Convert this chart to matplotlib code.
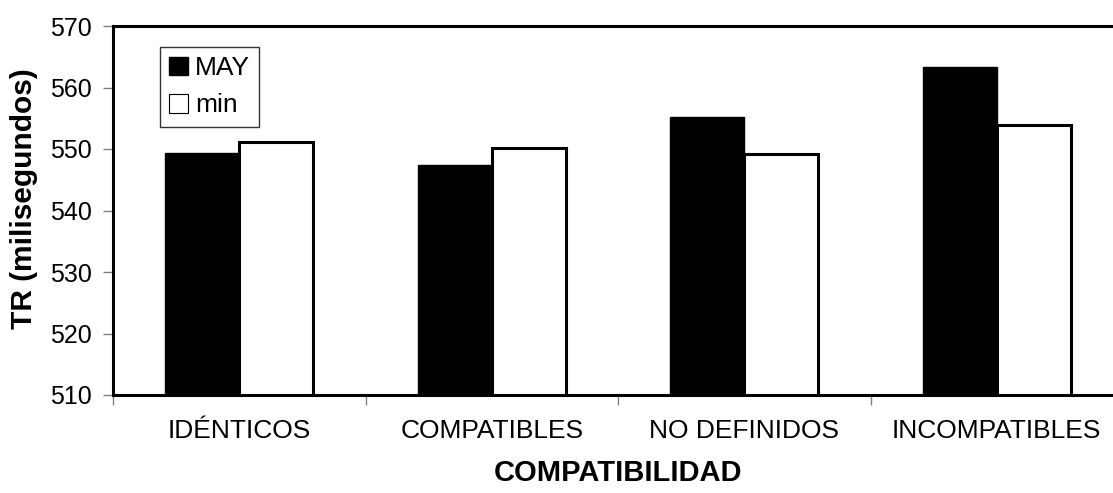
# reaction time by compatibility, MAY vs min

import matplotlib
matplotlib.use("Agg")
import matplotlib.pyplot as plt
from matplotlib.patches import Patch
import numpy as np

categories = ["IDÉNTICOS", "COMPATIBLES", "NO DEFINIDOS", "INCOMPATIBLES"]
may_vals = [549.3, 547.4, 555.2, 563.3]
min_vals = [551.1, 550.2, 549.2, 553.9]
yticks = [510, 520, 530, 540, 550, 560, 570]

plt.rcParams["font.family"] = ["Liberation Sans", "DejaVu Sans"]

fig = plt.figure(figsize=(11.13, 4.93), dpi=100)
ax = fig.add_axes([113 / 1113, 1 - 395 / 493, 1010 / 1113, 369 / 493])

x = np.arange(len(categories))
w = 0.293
lw = 2.2
ax.bar(x - w / 2, may_vals, w, color="black", edgecolor="black", linewidth=1)
ax.bar(x + w / 2, min_vals, w, color="white", edgecolor="black", linewidth=lw)

ax.set_ylim(510, 570)
ax.set_xlim(-0.5, len(categories) - 0.5)
ax.set_yticks(yticks)
ax.set_xticks(np.arange(len(categories) + 1) - 0.5)
ax.set_xticklabels([])
ax.set_xticks(x, minor=True)
ax.set_xticklabels(categories, minor=True)
ax.tick_params(axis="x", which="minor", length=0, pad=17, labelsize=19)
ax.tick_params(axis="x", which="major", length=7, width=1, color="#808080", direction="out")
ax.tick_params(axis="y", length=7, width=1, color="#808080", pad=8, labelsize=18)

for s in ax.spines.values():
    s.set_linewidth(lw)
    s.set_color("black")

ax.set_ylabel("TR (milisegundos)", fontsize=21.5, fontweight="bold")
ax.yaxis.set_label_coords(-0.074, 0.5325)
ax.set_xlabel("COMPATIBILIDAD", fontsize=21, fontweight="bold", labelpad=12)

handles = [Patch(facecolor="black", edgecolor="black"),
           Patch(facecolor="white", edgecolor="black", linewidth=0.8)]
leg = ax.legend(handles, ["MAY", "min"], loc="upper left",
                bbox_to_anchor=(160 / 1113, 1 - 47 / 493), bbox_transform=fig.transFigure,
                fontsize=19, fancybox=False, framealpha=1, edgecolor="#333333",
                handlelength=0.72, handleheight=0.72, handletextpad=0.25,
                borderpad=0.35, labelspacing=0.5, borderaxespad=0)
leg.get_frame().set_linewidth(1)

fig.savefig("out.png", dpi=100)
